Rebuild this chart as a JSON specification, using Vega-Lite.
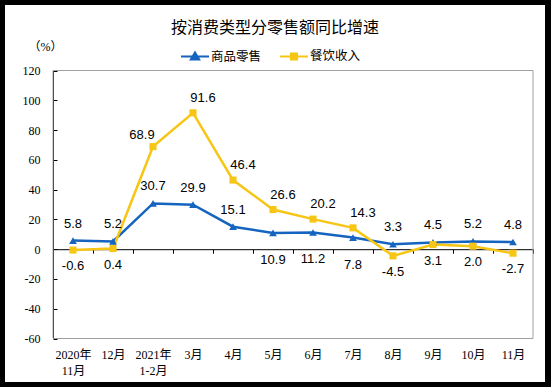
{
  "$schema": "https://vega.github.io/schema/vega-lite/v6.json",
  "width": 540,
  "height": 377,
  "autosize": "none",
  "padding": {"left": 5, "top": 5, "right": 6, "bottom": 5},
  "background": "#000000",
  "config": {
    "view": {"fill": "#ffffff", "stroke": null},
    "locale": {"number": {"decimal": ".", "thousands": ",", "grouping": [3], "currency": ["", ""], "minus": "-"}}
  },
  "title": {
    "text": "按消费类型分零售额同比增速",
    "font": "Noto Sans CJK SC",
    "fontSize": 16,
    "fontWeight": "normal",
    "color": "#000000",
    "anchor": "middle",
    "frame": "group",
    "offset": -31
  },
  "datasets": {
    "d": [
      {"month": "2020年|11月", "series": "商品零售", "value": 5.8},
      {"month": "12月", "series": "商品零售", "value": 5.2},
      {"month": "2021年|1-2月", "series": "商品零售", "value": 30.7},
      {"month": "3月", "series": "商品零售", "value": 29.9},
      {"month": "4月", "series": "商品零售", "value": 15.1},
      {"month": "5月", "series": "商品零售", "value": 10.9},
      {"month": "6月", "series": "商品零售", "value": 11.2},
      {"month": "7月", "series": "商品零售", "value": 7.8},
      {"month": "8月", "series": "商品零售", "value": 3.3},
      {"month": "9月", "series": "商品零售", "value": 4.5},
      {"month": "10月", "series": "商品零售", "value": 5.2},
      {"month": "11月", "series": "商品零售", "value": 4.8},
      {"month": "2020年|11月", "series": "餐饮收入", "value": -0.6},
      {"month": "12月", "series": "餐饮收入", "value": 0.4},
      {"month": "2021年|1-2月", "series": "餐饮收入", "value": 68.9},
      {"month": "3月", "series": "餐饮收入", "value": 91.6},
      {"month": "4月", "series": "餐饮收入", "value": 46.4},
      {"month": "5月", "series": "餐饮收入", "value": 26.6},
      {"month": "6月", "series": "餐饮收入", "value": 20.2},
      {"month": "7月", "series": "餐饮收入", "value": 14.3},
      {"month": "8月", "series": "餐饮收入", "value": -4.5},
      {"month": "9月", "series": "餐饮收入", "value": 3.1},
      {"month": "10月", "series": "餐饮收入", "value": 2.0},
      {"month": "11月", "series": "餐饮收入", "value": -2.7}
    ],
    "frame": [{"x0": 0, "x1": 1, "y0": -60, "y1": 120}]
  },
  "layer": [
    {
      "data": {"name": "frame"},
      "mark": {"type": "rect", "fill": null, "stroke": "#a0a0a0", "strokeWidth": 1},
      "encoding": {
        "x": {"field": "x0", "type": "quantitative", "scale": {"domain": [0, 1], "range": [48, 528], "nice": false, "zero": false}, "axis": null},
        "x2": {"field": "x1"},
        "y": {
          "field": "y0", "type": "quantitative",
          "scale": {"domain": [-60, 120], "range": [333.5, 65.5], "nice": false, "zero": false},
          "axis": {
            "orient": "left", "offset": -48,
            "values": [-60, -40, -20, 0, 20, 40, 60, 80, 100, 120],
            "format": "d",
            "domain": true, "domainColor": "#000000", "domainWidth": 1,
            "ticks": true, "tickSize": -4, "tickColor": "#000000", "tickWidth": 1,
            "grid": false,
            "labelFont": "Liberation Serif", "labelFontSize": 12, "labelColor": "#000000", "labelPadding": 17,
            "title": "（%）", "titleAngle": 0, "titleX": -8, "titleY": 41,
            "titleAlign": "center", "titleBaseline": "middle",
            "titleFont": "Liberation Serif, Noto Sans CJK SC", "titleFontSize": 12, "titleFontWeight": "normal", "titleColor": "#000000"
          }
        },
        "y2": {"field": "y1"}
      }
    },
    {
      "data": {"name": "d"},
      "encoding": {
        "x": {
          "field": "month", "type": "nominal", "sort": null,
          "scale": {"type": "band", "domain": ["2020年|11月", "12月", "2021年|1-2月", "3月", "4月", "5月", "6月", "7月", "8月", "9月", "10月", "11月"], "range": [48, 528], "paddingInner": 0, "paddingOuter": 0},
          "axis": {
            "orient": "bottom", "offset": -132.8, "title": null,
            "domain": true, "domainColor": "#000000", "domainWidth": 1,
            "ticks": true, "tickBand": "extent", "tickSize": 4, "tickColor": "#000000",
            "grid": false, "labelAngle": 0,
            "labelExpr": "split(datum.label, '|')",
            "labelFont": "Liberation Serif, Noto Sans CJK SC", "labelFontSize": 12, "labelColor": "#000000",
            "labelPadding": 96, "labelLineHeight": 16, "labelBaseline": "top"
          }
        },
        "y": {"field": "value", "type": "quantitative"}
      },
      "layer": [
        {
          "mark": {"type": "line", "strokeWidth": 2.5},
          "encoding": {
            "color": {
              "field": "series", "type": "nominal",
              "scale": {"domain": ["商品零售", "餐饮收入"], "range": ["#1565C0", "#F7C614"]},
              "legend": {
                "title": null, "orient": "none", "direction": "horizontal",
                "legendX": 175, "legendY": 36, "padding": 0,
                "columnPadding": 14, "labelOffset": 1,
                "symbolSize": 784, "symbolStrokeWidth": 2,
                "labelFont": "Noto Sans CJK SC", "labelFontSize": 12.5, "labelColor": "#000000",
                "encode": {
                  "symbols": {
                    "update": {
                      "shape": {"signal": "datum.value === '商品零售' ? 'M-1,0H1M-0.3,0.2L0,-0.3L0.3,0.2Z' : 'M-1,0H1M-0.22,-0.22H0.22V0.22H-0.22Z'"},
                      "fill": {"signal": "datum.value === '商品零售' ? '#1565C0' : '#F7C614'"},
                      "stroke": {"signal": "datum.value === '商品零售' ? '#1565C0' : '#F7C614'"},
                      "strokeWidth": {"value": 2},
                      "opacity": {"value": 1}
                    }
                  }
                }
              }
            }
          }
        },
        {
          "transform": [{"filter": {"field": "series", "equal": "商品零售"}}],
          "mark": {"type": "point", "shape": "triangle-up", "filled": true, "opacity": 1, "size": 60},
          "encoding": {"color": {"field": "series", "type": "nominal"}}
        },
        {
          "transform": [{"filter": {"field": "series", "equal": "餐饮收入"}}],
          "mark": {"type": "point", "shape": "square", "filled": true, "opacity": 1, "size": 50},
          "encoding": {"color": {"field": "series", "type": "nominal"}}
        },
        {
          "transform": [{"filter": {"and": [{"field": "series", "equal": "商品零售"}, {"field": "month", "oneOf": ["2020年|11月", "12月", "2021年|1-2月", "3月", "4月", "8月", "9月", "10月", "11月"]}]}}],
          "mark": {"type": "text", "dy": -17, "font": "Liberation Sans", "fontSize": 13, "color": "#000000", "baseline": "middle"},
          "encoding": {"text": {"field": "value", "type": "quantitative", "format": ".1f"}}
        },
        {
          "transform": [{"filter": {"and": [{"field": "series", "equal": "商品零售"}, {"field": "month", "oneOf": ["5月", "6月", "7月"]}]}}],
          "mark": {"type": "text", "dy": 27, "font": "Liberation Sans", "fontSize": 13, "color": "#000000", "baseline": "middle"},
          "encoding": {"text": {"field": "value", "type": "quantitative", "format": ".1f"}}
        },
        {
          "transform": [{"filter": {"and": [{"field": "series", "equal": "餐饮收入"}, {"field": "month", "oneOf": ["3月", "4月", "5月", "6月", "7月"]}]}}],
          "mark": {"type": "text", "dx": 10, "dy": -15, "font": "Liberation Sans", "fontSize": 13, "color": "#000000", "baseline": "middle"},
          "encoding": {"text": {"field": "value", "type": "quantitative", "format": ".1f"}}
        },
        {
          "transform": [{"filter": {"and": [{"field": "series", "equal": "餐饮收入"}, {"field": "month", "oneOf": ["2021年|1-2月"]}]}}],
          "mark": {"type": "text", "dx": -11, "dy": -12, "font": "Liberation Sans", "fontSize": 13, "color": "#000000", "baseline": "middle"},
          "encoding": {"text": {"field": "value", "type": "quantitative", "format": ".1f"}}
        },
        {
          "transform": [{"filter": {"and": [{"field": "series", "equal": "餐饮收入"}, {"field": "month", "oneOf": ["2020年|11月", "12月", "8月", "9月", "10月", "11月"]}]}}],
          "mark": {"type": "text", "dy": 16, "font": "Liberation Sans", "fontSize": 13, "color": "#000000", "baseline": "middle"},
          "encoding": {"text": {"field": "value", "type": "quantitative", "format": ".1f"}}
        }
      ]
    }
  ],
  "resolve": {"scale": {"x": "independent"}}
}
